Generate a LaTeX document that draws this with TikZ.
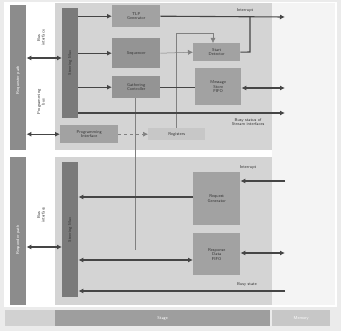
\documentclass[tikz,border=0pt]{standalone}
\usetikzlibrary{arrows.meta}
\definecolor{panel}{HTML}{D4D4D4}
\definecolor{boxc}{HTML}{A2A2A2}
\definecolor{muxc}{HTML}{7A7A7A}
\definecolor{barc}{HTML}{8C8C8C}
\definecolor{linec}{HTML}{454545}
\definecolor{farc}{HTML}{F4F4F4}
\tikzset{
  tiny/.style={font=\sffamily\fontsize{4.2}{4.6}\selectfont, align=center, text=black!80},
  box/.style={draw=none, fill=boxc, inner sep=0pt, tiny},
  litebox/.style={draw=none, fill=black!22, inner sep=0pt, tiny},
  mux/.style={draw=none, fill=muxc, inner sep=0pt},
  sidebar/.style={draw=none, fill=barc, inner sep=0pt},
  conn/.style={draw=linec, line width=1.1pt},
  thin/.style={draw=black!50, line width=0.5pt},
  tip/.style={-{Latex[length=5pt,width=5pt]}},
  tips/.style={{Latex[length=5pt,width=5pt]}-{Latex[length=5pt,width=5pt]}},
  lbl/.style={tiny, inner sep=0.5pt},
}
\begin{document}
\begin{tikzpicture}[x=1pt,y=-1pt]
\useasboundingbox (0,0) rectangle (341,331);
% background frame
\fill[black!8] (0,0) rectangle (341,331);
\fill[white] (4,2) rectangle (337,307);
% right faded area
\fill[farc] (272,3) rectangle (335,305);
% panels
\node[fill=panel, minimum width=217pt, minimum height=147pt, inner sep=0pt, anchor=north west] (ptop) at (55,3) {};
\node[fill=panel, minimum width=217pt, minimum height=148pt, inner sep=0pt, anchor=north west] (pbot) at (55,157) {};
% side bars
\node[sidebar, minimum width=16pt, minimum height=145pt, anchor=north west] (reqbar) at (10,5) {};
\node[tiny, text=white, rotate=90] (reqlbl) at (18,80) {Requester path};
\node[sidebar, minimum width=16pt, minimum height=148pt, anchor=north west] (respbar) at (10,157) {};
\node[tiny, text=white, rotate=90] (resplbl) at (18,240) {Responder path};
% muxes
\node[mux, minimum width=16pt, minimum height=110pt, anchor=north west] (mux1) at (62,8) {};
\node[tiny, rotate=90] (mux1l) at (70,63) {Steering Mux};
\node[mux, minimum width=16pt, minimum height=135pt, anchor=north west] (mux2) at (62,162) {};
\node[tiny, rotate=90] (mux2l) at (70,230) {Steering Mux};
% top boxes
\node[box, minimum width=48pt, minimum height=22pt, anchor=north west] (tlp) at (112,5) {TLP\\Generator};
\node[box, fill=black!42, minimum width=48pt, minimum height=30pt, anchor=north west] (seq) at (112,38) {Sequencer};
\node[box, fill=black!42, minimum width=48pt, minimum height=22pt, anchor=north west] (gath) at (112,76) {Gathering\\Controller};
\node[box, minimum width=47pt, minimum height=18pt, anchor=north west] (sort) at (193,43) {Start\\Detector};
\node[box, minimum width=46pt, minimum height=37pt, anchor=north west] (msg) at (195,68) {Message\\Store\\FIFO};
\node[box, minimum width=58pt, minimum height=18pt, anchor=north west] (prog) at (60,125) {Programming\\Interface};
\node[litebox, minimum width=57pt, minimum height=12pt, anchor=north west] (regs) at (148,128) {Registers};
% bottom boxes
\node[box, minimum width=47pt, minimum height=53pt, anchor=north west] (rgen) at (193,172) {Request\\Generator};
\node[box, minimum width=47pt, minimum height=42pt, anchor=north west] (rfifo) at (193,233) {Response\\Data\\FIFO};
% free ends
\coordinate (o1) at (285,17);
\coordinate (o2) at (285,88);
\coordinate (o3) at (285,113);
\coordinate (i1) at (285,181);
\coordinate (i2) at (285,253);
\coordinate (i3) at (285,291);
% thin control lines
\draw[thin] (regs.north -| 176,0) -- (176,33) -- (213,33) [tip] -- (sort.north -| 213,0);
\draw[thin] (gath.south -| 135,0) -- (135,250);
\draw[thin] (seq.east) [tip] -- (sort.west);
\draw[thin, dashed] (prog.east) [tip] -- (regs.west);
% top connectors
\draw[conn, tip] (mux1.east |- tlp) -- (tlp.west);
\draw[conn, tip] (mux1.east |- seq) -- (seq.west);
\draw[conn, tip] (mux1.east |- gath) -- (gath.west);
\draw[conn, tip] (tlp.east) -- (o1);
\draw[conn] (sort.east) -- (250,52) -- (250,17);
\draw[conn] (gath.east) -- (msg.west |- gath.east);
\draw[conn, tips] (msg.east |- o2) -- (o2);
\draw[conn, tip] (mux1.east |- o3) -- (o3);
\draw[conn, tips] (reqbar.east |- 0,58) -- (mux1.west |- 0,58);
\draw[conn, tips] (reqbar.east |- prog) -- (prog.west);
% bottom connectors
\draw[conn, tip] (rgen.west |- 0,197) -- (mux2.east |- 0,197);
\draw[conn, tip] (i1) -- (rgen.east |- i1);
\draw[conn, tips] (mux2.east |- 0,260) -- (rfifo.west |- 0,260);
\draw[conn, tips] (rfifo.east |- i2) -- (i2);
\draw[conn, tip] (i3) -- (mux2.east |- i3);
\draw[conn, tips] (respbar.east |- 0,247) -- (mux2.west |- 0,247);
% labels
\node[lbl] (lint1) at (245,10) {Interrupt};
\node[lbl] (lbusy) at (248,122) {Busy status of\\Stream interfaces};
\node[lbl] (lint2) at (248,167) {Interrupt};
\node[lbl] (lbusy2) at (247,284) {Busy state};
\node[lbl, rotate=90] (lbus1) at (41,38) {Bus\\interface};
\node[lbl, rotate=90] (lprog) at (41,102) {Programming\\bus};
\node[lbl, rotate=90] (lbus2) at (41,215) {Bus\\interface};
% bottom strip
\fill[black!18] (5,310) rectangle (55,326);
\node[fill=black!38, minimum width=215pt, minimum height=16pt, inner sep=0pt, anchor=north west, tiny, text=white] (stage) at (55,310) {Stage};
\node[fill=black!22, minimum width=58pt, minimum height=16pt, inner sep=0pt, anchor=north west, tiny, text=white] (mem) at (272,310) {Memory};
\end{tikzpicture}
\end{document}
